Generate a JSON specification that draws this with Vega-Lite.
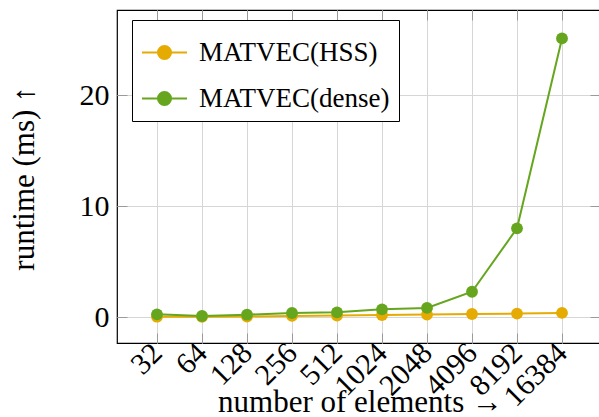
{
  "$schema": "https://vega.github.io/schema/vega-lite/v6.json",
  "autosize": "none",
  "padding": {"left": 117, "top": 10, "right": 0, "bottom": 74},
  "width": 483,
  "height": 333,
  "config": {
    "font": "Liberation Serif",
    "view": {"stroke": "black", "strokeWidth": 1.2},
    "axis": {"labelFont": "Liberation Serif", "titleFont": "Liberation Serif", "labelColor": "black", "titleColor": "black", "titleFontWeight": "normal", "domain": false}
  },
  "data": {
    "values": [
      {"n": 32, "series": "MATVEC(HSS)", "ms": 0.03},
      {"n": 64, "series": "MATVEC(HSS)", "ms": 0.02},
      {"n": 128, "series": "MATVEC(HSS)", "ms": 0.05},
      {"n": 256, "series": "MATVEC(HSS)", "ms": 0.1},
      {"n": 512, "series": "MATVEC(HSS)", "ms": 0.13},
      {"n": 1024, "series": "MATVEC(HSS)", "ms": 0.18},
      {"n": 2048, "series": "MATVEC(HSS)", "ms": 0.22},
      {"n": 4096, "series": "MATVEC(HSS)", "ms": 0.27},
      {"n": 8192, "series": "MATVEC(HSS)", "ms": 0.31},
      {"n": 16384, "series": "MATVEC(HSS)", "ms": 0.37},
      {"n": 32, "series": "MATVEC(dense)", "ms": 0.24},
      {"n": 64, "series": "MATVEC(dense)", "ms": 0.09},
      {"n": 128, "series": "MATVEC(dense)", "ms": 0.21},
      {"n": 256, "series": "MATVEC(dense)", "ms": 0.36},
      {"n": 512, "series": "MATVEC(dense)", "ms": 0.42},
      {"n": 1024, "series": "MATVEC(dense)", "ms": 0.69},
      {"n": 2048, "series": "MATVEC(dense)", "ms": 0.82},
      {"n": 4096, "series": "MATVEC(dense)", "ms": 2.28},
      {"n": 8192, "series": "MATVEC(dense)", "ms": 7.99},
      {"n": 16384, "series": "MATVEC(dense)", "ms": 25.1}
    ]
  },
  "layer": [
    {
      "mark": {"type": "line", "strokeWidth": 2},
      "encoding": {
        "x": {
          "field": "n", "type": "quantitative",
          "scale": {"type": "log", "base": 2, "domain": [17.28, 29418], "nice": false},
          "axis": {
            "orient": "bottom",
            "values": [32, 64, 128, 256, 512, 1024, 2048, 4096, 8192, 16384],
            "format": "d",
            "grid": true, "gridColor": "#d6d6d6", "gridWidth": 1,
            "tickSize": -10, "tickColor": "#9a9a9a", "tickWidth": 1,
            "labelAngle": -45, "labelAlign": "right", "labelBaseline": "middle",
            "labelFontSize": 30, "labelPadding": 15, "labelFlush": false, "labelOverlap": false, "labelBound": false,
            "title": "number of elements \u2192", "titleFontSize": 31,
            "titleX": 243, "titleY": 68, "titleBaseline": "alphabetic", "titleAlign": "center"
          }
        },
        "y": {
          "field": "ms", "type": "quantitative",
          "scale": {"domain": [-2.34, 27.66], "nice": false, "zero": false},
          "axis": {
            "orient": "left",
            "values": [0, 10, 20],
            "grid": true, "gridColor": "#d6d6d6", "gridWidth": 1,
            "tickSize": -10, "tickColor": "#9a9a9a", "tickWidth": 1,
            "labelFontSize": 30, "labelPadding": 18,
            "title": "runtime (ms) \u2191", "titleFontSize": 31,
            "titleX": -84, "titleY": 168, "titleAngle": -90, "titleBaseline": "alphabetic", "titleAlign": "center"
          }
        },
        "color": {
          "field": "series", "type": "nominal",
          "scale": {"domain": ["MATVEC(HSS)", "MATVEC(dense)"], "range": ["#e6ab02", "#66a61e"]},
          "legend": {
            "title": null, "orient": "none", "legendX": 15, "legendY": 10,
            "fillColor": "white", "strokeColor": "black", "padding": 9, "cornerRadius": 0,
            "symbolType": "M-1,0H-0.29M0.29,0H1M-0.29,0A0.29,0.29,0,1,1,0.29,0A0.29,0.29,0,1,1,-0.29,0Z",
            "symbolSize": 2025, "symbolStrokeWidth": 2,
            "labelFont": "Liberation Serif", "labelFontSize": 27, "labelColor": "black",
            "labelOffset": 11, "rowPadding": 9, "labelLimit": 400
          }
        },
        "order": {"field": "n", "type": "quantitative"}
      }
    },
    {
      "mark": {"type": "point", "filled": true, "size": 140, "opacity": 1},
      "encoding": {
        "x": {
          "field": "n", "type": "quantitative",
          "axis": {"orient": "top", "values": [32, 64, 128, 256, 512, 1024, 2048, 4096, 8192, 16384], "labels": false, "grid": false, "tickSize": -10, "tickColor": "#9a9a9a", "title": null}
        },
        "y": {
          "field": "ms", "type": "quantitative",
          "axis": {"orient": "right", "values": [0, 10, 20], "labels": false, "grid": false, "tickSize": -10, "tickColor": "#9a9a9a", "title": null}
        },
        "color": {"field": "series", "type": "nominal"}
      }
    }
  ],
  "resolve": {"axis": {"x": "independent", "y": "independent"}}
}
